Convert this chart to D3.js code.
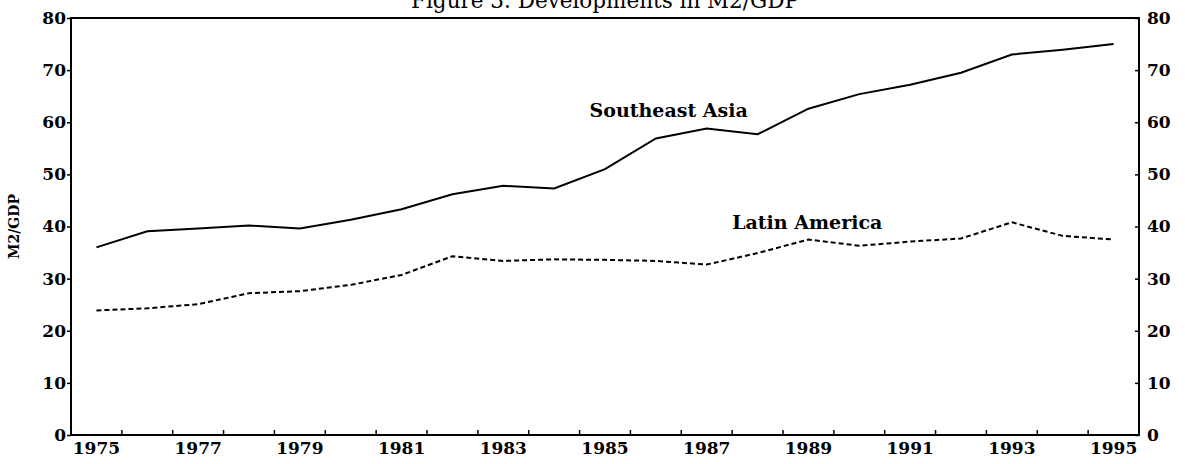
<!DOCTYPE html>
<html>
<head>
<meta charset="utf-8">
<script src="https://cdn.jsdelivr.net/npm/d3@7"></script>
<style>
  html, body { margin: 0; padding: 0; background: #fff; }
  svg { display: block; }
  text { font-family: "DejaVu Serif", "Liberation Serif", serif; fill: #000; }
</style>
</head>
<body>
<svg id="chart" width="1185" height="464"></svg>
<script>
// ---- data ----
const years = [1975,1976,1977,1978,1979,1980,1981,1982,1983,1984,1985,1986,1987,1988,1989,1990,1991,1992,1993,1994,1995];
const southeastAsia = [36.0,39.1,39.6,40.2,39.6,41.3,43.3,46.2,47.8,47.3,51.0,56.9,58.8,57.7,62.6,65.4,67.2,69.5,73.0,73.9,75.0];
const latinAmerica  = [23.9,24.3,25.1,27.2,27.6,28.8,30.7,34.3,33.4,33.7,33.6,33.4,32.7,34.9,37.5,36.3,37.1,37.7,40.8,38.2,37.5];
const yTicks = [0,10,20,30,40,50,60,70,80];
const xTickLabels = [1975,1977,1979,1981,1983,1985,1987,1989,1991,1993,1995];
const titleText = "Figure 3. Developments in M2/GDP";
const yLabel = "M2/GDP";

// ---- layout ----
const pLeft = 71, pRight = 1139, pTop = 18, pBottom = 435;
const svg = d3.select("#chart");

const x = d3.scaleBand().domain(years).range([pLeft, pRight]).padding(0);
const y = d3.scaleLinear().domain([0, 80]).range([pBottom, pTop]);
const cx = d => x(d) + x.bandwidth() / 2;

// title (partly cut off at top, as in the reference)
svg.append("text")
  .attr("x", 605).attr("y", 8)
  .attr("text-anchor", "middle")
  .style("font-size", "21.5px")
  .text(titleText);

// frame
svg.append("rect")
  .attr("x", pLeft).attr("y", pTop)
  .attr("width", pRight - pLeft).attr("height", pBottom - pTop)
  .attr("fill", "none").attr("stroke", "#000").attr("stroke-width", 2);

// left axis
const yl = svg.append("g").attr("transform", `translate(${pLeft},0)`)
  .call(d3.axisLeft(y).tickValues(yTicks).tickSize(4).tickPadding(1).tickFormat(d3.format("d")));
// right axis (ticks point inward)
const yr = svg.append("g").attr("transform", `translate(${pRight},0)`)
  .call(d3.axisRight(y).tickValues(yTicks).tickSizeInner(-4).tickSizeOuter(0).tickPadding(8).tickFormat(d3.format("d")));
[yl, yr].forEach(g => {
  g.select(".domain").remove();
  g.selectAll(".tick line").attr("stroke", "#000").attr("stroke-width", 1.5);
  g.selectAll(".tick text").style("font-size", "17px").style("font-weight", "bold")
   .attr("font-family", null);
});

// bottom axis labels (every other year, centred in band)
const xb = svg.append("g").attr("transform", `translate(0,${pBottom})`)
  .call(d3.axisBottom(x).tickValues(xTickLabels).tickSize(0).tickPadding(7).tickFormat(d3.format("d")));
xb.select(".domain").remove();
xb.selectAll(".tick text").style("font-size", "17px").style("font-weight", "bold").attr("font-family", null);

// bottom boundary ticks (between years, pointing inward)
svg.append("g").selectAll("line")
  .data(years.slice(1))
  .join("line")
  .attr("x1", d => x(d)).attr("x2", d => x(d))
  .attr("y1", pBottom).attr("y2", pBottom - 5)
  .attr("stroke", "#000").attr("stroke-width", 1.5);

// y label
svg.append("text")
  .attr("transform", `translate(19,${(pTop + pBottom) / 2}) rotate(-90)`)
  .attr("text-anchor", "middle")
  .style("font-size", "14px").style("font-weight", "bold")
  .text(yLabel);

// lines
const line = d3.line().x((d, i) => cx(years[i])).y(d => y(d));
svg.append("path").datum(southeastAsia)
  .attr("d", line).attr("fill", "none").attr("stroke", "#000").attr("stroke-width", 2);
svg.append("path").datum(latinAmerica)
  .attr("d", line).attr("fill", "none").attr("stroke", "#000").attr("stroke-width", 2)
  .attr("stroke-dasharray", "5,3");

// series labels
svg.append("text")
  .attr("x", x(1985) + 10).attr("y", y(61))
  .style("font-size", "19px").style("font-weight", "bold")
  .text("Southeast Asia");
svg.append("text")
  .attr("x", x(1988)).attr("y", y(39.5))
  .style("font-size", "19px").style("font-weight", "bold")
  .text("Latin America");
</script>
</body>
</html>
